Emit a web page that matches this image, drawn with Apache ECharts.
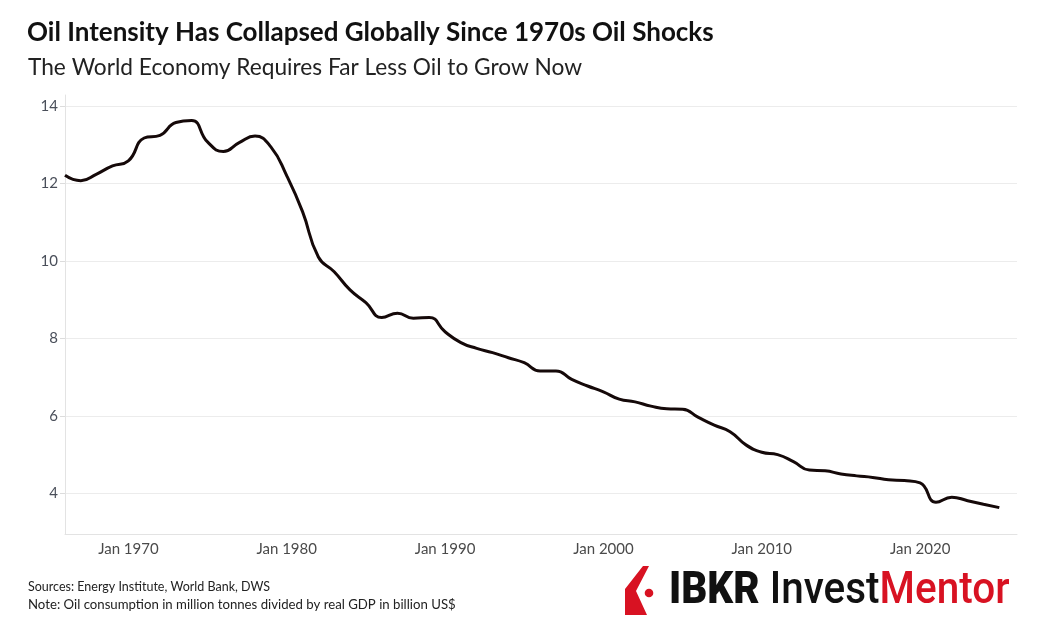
<!DOCTYPE html>
<html>
<head>
<meta charset="utf-8">
<title>Oil Intensity</title>
<script src="https://cdn.jsdelivr.net/npm/echarts@6/dist/echarts.min.js"></script>
<style>
  html, body { margin: 0; padding: 0; background: #fff; }
  #chart { width: 1041px; height: 637px; }
</style>
</head>
<body>
<div id="chart"></div>
<script>
// oil intensity, year-end values (million tonnes per billion US$ real GDP)
const years = [
  1965, 1966, 1967, 1968, 1969, 1970, 1971, 1972, 1973, 1974,
  1975, 1976, 1977, 1978, 1979, 1980, 1981, 1982, 1983, 1984,
  1985, 1986, 1987, 1988, 1989, 1990, 1991, 1992, 1993, 1994,
  1995, 1996, 1997, 1998, 1999, 2000, 2001, 2002, 2003, 2004,
  2005, 2006, 2007, 2008, 2009, 2010, 2011, 2012, 2013, 2014,
  2015, 2016, 2017, 2018, 2019, 2020, 2021, 2022, 2023, 2024
];
const intensity = [
  12.21, 12.07, 12.24, 12.45, 12.58, 13.17, 13.24, 13.57, 13.62, 13.07,
  12.82, 13.05, 13.22, 12.94, 12.2, 11.27, 10.1, 9.72, 9.25, 8.92,
  8.54, 8.65, 8.52, 8.54, 8.17, 7.89, 7.74, 7.63, 7.5, 7.37,
  7.16, 7.16, 6.94, 6.77, 6.62, 6.43, 6.36, 6.25, 6.18, 6.17,
  5.96, 5.76, 5.59, 5.25, 5.06, 5.0, 4.82, 4.6, 4.58, 4.5,
  4.45, 4.41, 4.35, 4.33, 4.27, 3.77, 3.9, 3.81, 3.72, 3.63
];
const xTickYears = [1970, 1980, 1990, 2000, 2010, 2020];
const yTicks = [4, 6, 8, 10, 12, 14];

const chartDom = echarts.init(document.getElementById("chart"));

// timestamps on a plain value axis, so custom tick values work
let seriesData = years.map((y, i) => [Date.UTC(y, 11, 31), intensity[i]]);
let xTicks = xTickYears.map((y) => Date.UTC(y, 0, 1));

chartDom.setOption({
  backgroundColor: "#fff",
  animation: false,
  textStyle: { fontFamily: "Lato" },
  grid: {
    left: 65,
    right: 24,
    top: 95,
    bottom: 103,
  },
  xAxis: {
    type: "value",
    min: Date.UTC(1965, 11, 31),
    max: Date.UTC(2026, 1, 12),
    axisLine: { show: true, onZero: false, lineStyle: { color: "#e3e3e3", width: 1 } },
    axisTick: { show: false, customValues: xTicks },
    splitLine: { show: false },
    axisLabel: {
      customValues: xTicks,
      color: "#4a4a4a",
      fontSize: 15,
      margin: 8,
      hideOverlap: false,
      formatter: (v) => "Jan " + new Date(v).getUTCFullYear(),
    },
  },
  yAxis: {
    type: "value",
    min: 2.95,
    max: 14.28,
    axisLine: { show: true, onZero: false, lineStyle: { color: "#e3e3e3", width: 1 } },
    axisTick: {
      show: true,
      customValues: yTicks,
      length: 5,
      lineStyle: { color: "#dcdcdc" },
    },
    splitLine: { show: true, lineStyle: { color: "#ececec", width: 1 } },
    axisLabel: {
      customValues: yTicks,
      color: "#4a4f5a",
      fontSize: 15,
      margin: 7,
    },
  },
  series: [
    {
      name: "Oil intensity",
      type: "line",
      data: seriesData,
      smooth: 0.5,
      symbol: "none",
      lineStyle: { color: "#150909", width: 3 },
    },
  ],
  graphic: [
    {
      type: "text",
      left: 27,
      top: 20,
      style: {
        text: "Oil Intensity Has Collapsed Globally Since 1970s Oil Shocks",
        fontFamily: "Lato",
        fontWeight: "bold",
        fontSize: 26,
        fill: "#111",
      },
    },
    {
      type: "text",
      left: 28,
      top: 56,
      style: {
        text: "The World Economy Requires Far Less Oil to Grow Now",
        fontFamily: "Lato",
        fontSize: 22.7,
        fill: "#222",
      },
    },
    {
      type: "text",
      left: 28,
      top: 580,
      style: {
        text: "Sources: Energy Institute, World Bank, DWS",
        fontFamily: "Lato",
        fontSize: 12.5,
        fill: "#222",
      },
    },
    {
      type: "text",
      left: 28,
      top: 598,
      style: {
        text: "Note: Oil consumption in million tonnes divided by real GDP in billion US$",
        fontFamily: "Lato",
        fontSize: 13.2,
        fill: "#222",
      },
    },
    // logo mark
    {
      type: "polygon",
      shape: {
        points: [[643, 566], [649, 566], [636, 591], [647, 615], [625, 615], [625, 589]],
      },
      style: { fill: "#d81222" },
    },
    {
      type: "circle",
      shape: { cx: 649, cy: 593, r: 4.3 },
      style: { fill: "#d81222" },
    },
    {
      type: "text",
      x: 669,
      y: 570,
      scaleX: 0.92,
      style: {
        text: "{a|IBKR }{b|Invest}{c|Mentor}",
        rich: {
          a: { fontFamily: "Roboto", fontWeight: 900, fontSize: 44, fill: "#111" },
          b: { fontFamily: "Roboto", fontWeight: 500, fontSize: 44, fill: "#111" },
          c: { fontFamily: "Roboto", fontWeight: 500, fontSize: 44, fill: "#d81222" },
        },
      },
    },
  ],
});

window.addEventListener("resize", () => {
  chartDom.resize();
});
</script>
</body>
</html>
